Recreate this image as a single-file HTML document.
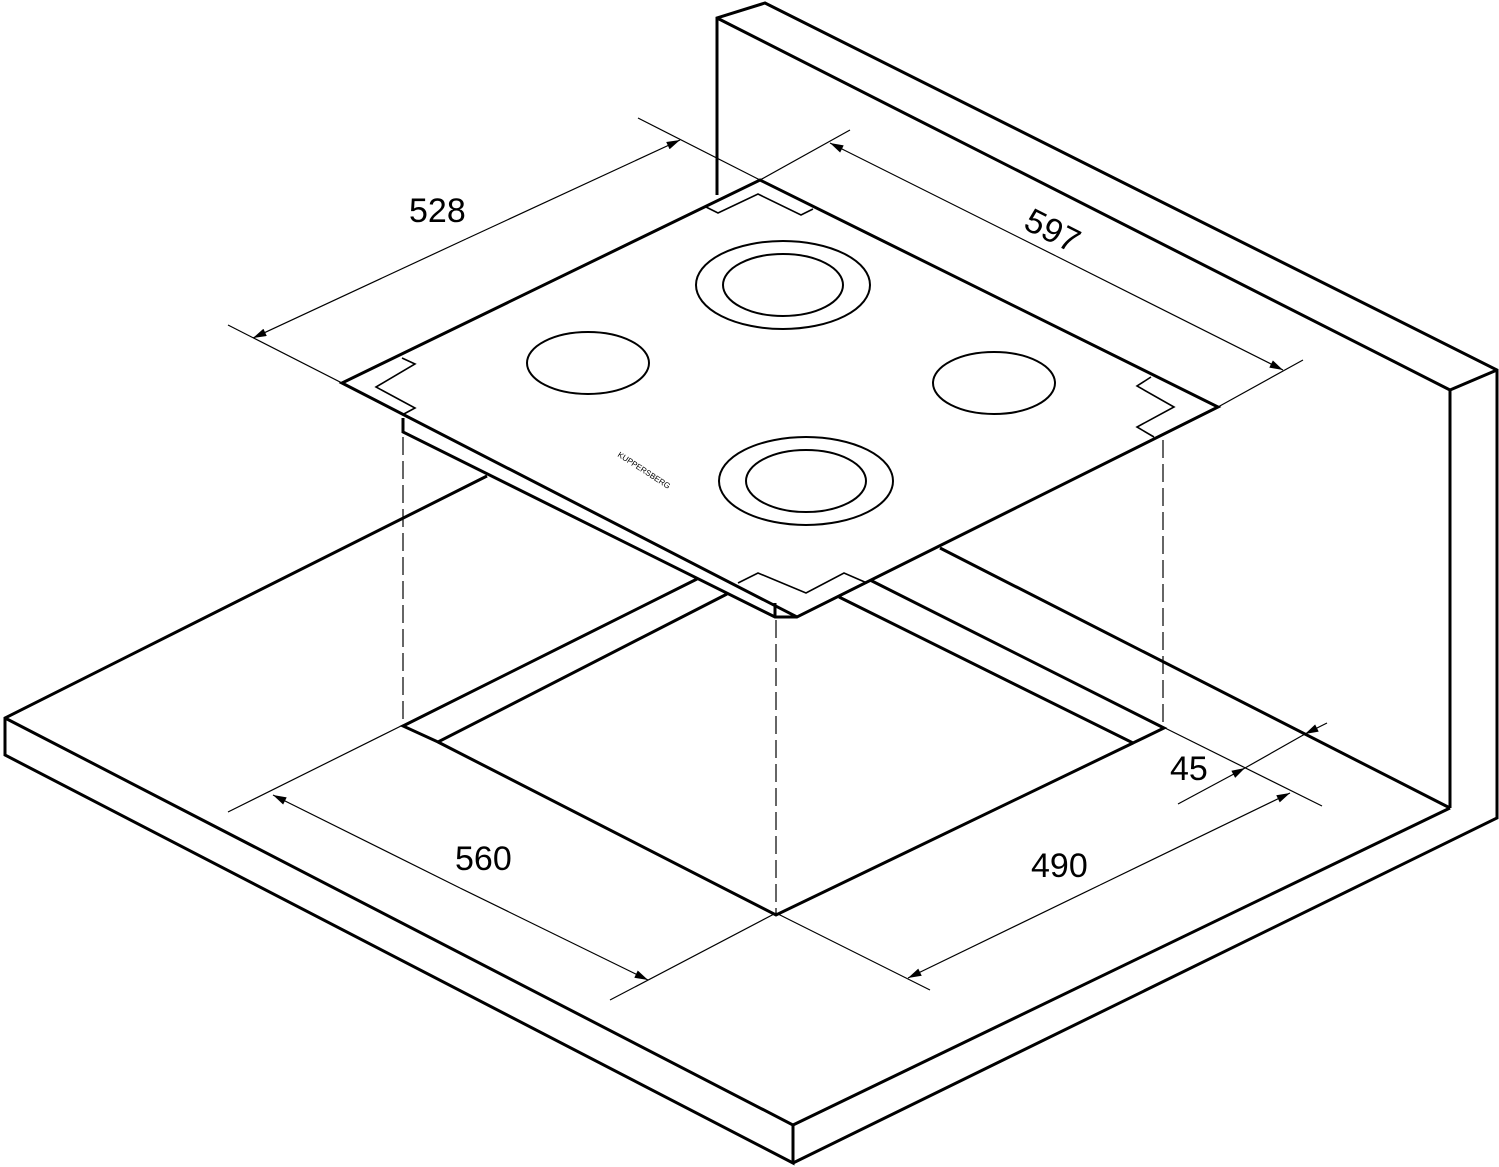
<!DOCTYPE html>
<html><head><meta charset="utf-8"><style>
html,body{margin:0;padding:0;background:#fff;}
svg{display:block;}
text{font-family:"Liberation Sans",sans-serif;fill:#000;}
</style></head><body>
<svg width="1499" height="1167" viewBox="0 0 1499 1167" xmlns="http://www.w3.org/2000/svg">
<defs>
<marker id="a" viewBox="0 0 10 6" refX="10" refY="3" markerWidth="14" markerHeight="8" orient="auto" markerUnits="userSpaceOnUse"><path d="M0,0 L10,3 L0,6 Z" fill="#000"/></marker>
</defs>
<g fill="none" stroke="#000" stroke-width="3" stroke-linejoin="miter">
<!-- wall -->
<polyline points="717,195 717,18 765,3 1497,370 1497,818 793,1163"/>
<line x1="717" y1="18" x2="1450" y2="390"/>
<line x1="1450" y1="390" x2="1497" y2="370"/>
<line x1="1450" y1="390" x2="1450" y2="808"/>
<!-- counter -->
<polyline points="487,476 5,718 5,755 793,1163 793,1125 5,718"/>
<line x1="793" y1="1125" x2="1450" y2="808"/>
<line x1="940" y1="548" x2="1450" y2="808"/>
<!-- cutout -->
<polyline points="697,579 403,726 438,742 727,594"/>
<polyline points="870,580 1164,728 1133,743 839,597"/>
<polyline points="438,742 776,915 1133,743"/>
<!-- hob -->
<polygon points="760,180 1218,407 797,617 342,383" fill="#fff"/>
<polyline points="403,418 403,432 775,617 797,617"/>
<line x1="775" y1="603" x2="775" y2="617"/>
</g>
<g fill="none" stroke="#000" stroke-width="1.6">
<polyline points="706,207 718,213 758,194 801,215 813,209"/>
<polyline points="402,358 415,364 376,387 415,408 402,415"/>
<polyline points="1151,377 1137,386 1174,407 1137,427 1154,437"/>
<polyline points="738,583 758,573 806,593 844,573 867,583"/>
<ellipse cx="783" cy="285" rx="87" ry="44" stroke-width="2"/>
<ellipse cx="783" cy="285" rx="60" ry="31" stroke-width="2"/>
<ellipse cx="588" cy="363" rx="61" ry="31" stroke-width="2"/>
<ellipse cx="994" cy="383" rx="61" ry="31" stroke-width="2"/>
<ellipse cx="806" cy="481" rx="87" ry="44" stroke-width="2"/>
<ellipse cx="806" cy="481" rx="60" ry="31" stroke-width="2"/>
</g>
<text x="0" y="0" font-size="8" transform="translate(617,456) rotate(33)">KUPPERSBERG</text>
<!-- dashed -->
<g stroke="#000" stroke-width="1.2" stroke-dasharray="18,6">
<line x1="403" y1="437" x2="403" y2="725"/>
<line x1="776" y1="620" x2="776" y2="913"/>
<line x1="1163" y1="440" x2="1163" y2="725"/>
</g>
<!-- dimension lines -->
<g stroke="#000" stroke-width="1.2" fill="none">
<line x1="638" y1="118" x2="760" y2="180"/>
<line x1="228" y1="325" x2="342" y2="383"/>
<line x1="850" y1="130" x2="760" y2="180"/>
<line x1="1303" y1="360" x2="1218" y2="407"/>
<line x1="466" y1="239" x2="680" y2="140" marker-end="url(#a)"/>
<line x1="466" y1="239" x2="253" y2="338" marker-end="url(#a)"/>
<line x1="1056" y1="256" x2="830" y2="143" marker-end="url(#a)"/>
<line x1="1056" y1="256" x2="1283" y2="370" marker-end="url(#a)"/>
<line x1="228" y1="812" x2="403" y2="725"/>
<line x1="610" y1="1000" x2="776" y2="913"/>
<line x1="460" y1="888" x2="273" y2="795" marker-end="url(#a)"/>
<line x1="460" y1="888" x2="648" y2="980" marker-end="url(#a)"/>
<line x1="776" y1="913" x2="930" y2="990"/>
<line x1="1163" y1="727" x2="1322" y2="806"/>
<line x1="1100" y1="885" x2="908" y2="978" marker-end="url(#a)"/>
<line x1="1100" y1="885" x2="1290" y2="793" marker-end="url(#a)"/>
<line x1="1178" y1="804" x2="1245" y2="768" marker-end="url(#a)"/>
<line x1="1327" y1="723" x2="1305" y2="734" marker-end="url(#a)"/>
<line x1="1245" y1="768" x2="1305" y2="734"/>
</g>
<text x="409" y="222" font-size="34">528</text>
<text x="0" y="0" font-size="34" transform="translate(1022,228) rotate(27)">597</text>
<text x="455" y="870" font-size="34">560</text>
<text x="1031" y="877" font-size="34">490</text>
<text x="1170" y="780" font-size="34">45</text>
</svg>
</body></html>
